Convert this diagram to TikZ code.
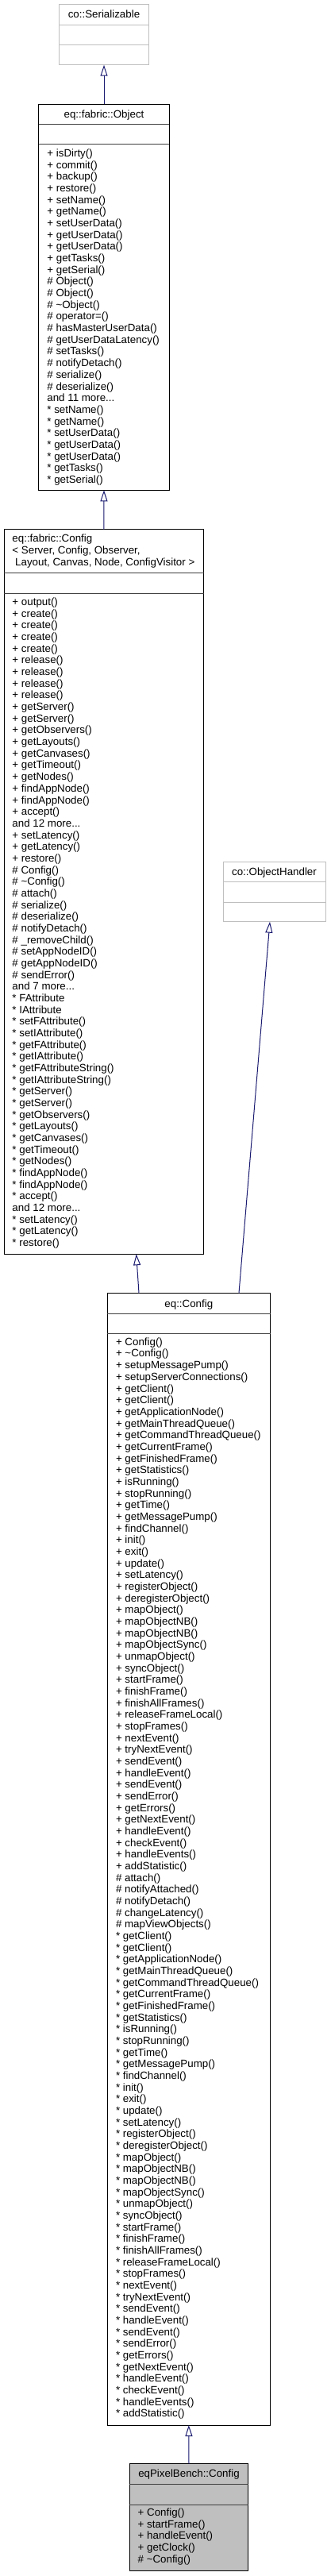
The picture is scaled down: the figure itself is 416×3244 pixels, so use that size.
\documentclass[tikz,border=0pt]{standalone}
\usepackage{fontspec}
\setmainfont{Liberation Sans}
\usetikzlibrary{arrows.meta}
\definecolor{edgeblue}{HTML}{191970}
\definecolor{greyA}{HTML}{BFBFBF}
\definecolor{divgrey}{HTML}{404040}
\newcommand\dfont{\fontsize{13.33}{14.67}\selectfont}
\newcommand\mdots{.{}.{}.}
\newcommand\memlist[4]{%
  \foreach \mtext [count=\mi from 0] in {#4} {\node[mem] (#1-\mi) at (#2, {#3+\mi*14.67+3.6}) {\mtext};}}
\begin{document}
\begin{tikzpicture}[x=1pt,y=-1pt,
  box/.style={draw=black, line width=1pt, inner sep=0pt, outer sep=0pt, anchor=north west},
  mem/.style={anchor=base west, inner sep=0pt, font=\dfont},
  ttl/.style={anchor=base, inner sep=0pt, font=\dfont},
  div/.style={draw=divgrey, line width=1pt},
  inh/.style={draw=edgeblue, line width=1pt, -{Triangle[open, length=14pt, width=9pt]}}]
\fill[white] (0,0) rectangle (416,3244);
\useasboundingbox (0,0) rectangle (416,3244);

% co::Serializable
\node[box, draw=greyA, minimum width=113.4pt, minimum height=76.7pt] (ser) at (74.3,5) {};
\draw[greyA, line width=1pt] (74.3,31.7) -- (187.7,31.7) (74.3,56.7) -- (187.7,56.7);
\node[ttl] (ser-t) at (131,22) {co::Serializable};

% eq::fabric::Object
\node[box, minimum width=164.6pt, minimum height=486.3pt] (obj) at (48.7,131) {};
\draw[div] (48.7,156) -- (213.3,156) (48.7,181.7) -- (213.3,181.7);
\node[ttl] (obj-t) at (131,148) {eq::fabric::Object};
\memlist{obj}{59.2}{194}{+ isDirty(), + commit(), + backup(), + restore(), + setName(), + getName(), + setUserData(), + getUserData(), + getUserData(), + getTasks(), + getSerial(), \# Object(), \# Object(), \# \textasciitilde Object(), \# operator=(), \# hasMasterUserData(), \# getUserDataLatency(), \# setTasks(), \# notifyDetach(), \# serialize(), \# deserialize(), {and 11 more\mdots}, * setName(), * getName(), * setUserData(), * getUserData(), * getUserData(), * getTasks(), * getSerial()}

% eq::fabric::Config
\node[box, minimum width=251.7pt, minimum height=912.6pt] (fab) at (5,666.7) {};
\draw[div] (5,721.7) -- (256.7,721.7) (5,747) -- (256.7,747);
\node[mem] (fab-t1) at (15.3,682) {eq::fabric::Config};
\node[mem] (fab-t2) at (15.3,697) {< Server, Config, Observer,};
\node[mem] (fab-t3) at (15.3,712) {\ Layout, Canvas, Node, ConfigVisitor >};
\memlist{fab}{15.3}{759}{+ output(), + create(), + create(), + create(), + create(), + release(), + release(), + release(), + release(), + getServer(), + getServer(), + getObservers(), + getLayouts(), + getCanvases(), + getTimeout(), + getNodes(), + findAppNode(), + findAppNode(), + accept(), {and 12 more\mdots}, + setLatency(), + getLatency(), + restore(), \# Config(), \# \textasciitilde Config(), \# attach(), \# serialize(), \# deserialize(), \# notifyDetach(), \# \_removeChild(), \# setAppNodeID(), \# getAppNodeID(), \# sendError(), {and 7 more\mdots}, * FAttribute, * IAttribute, * setFAttribute(), * setIAttribute(), * getFAttribute(), * getIAttribute(), * getFAttributeString(), * getIAttributeString(), * getServer(), * getServer(), * getObservers(), * getLayouts(), * getCanvases(), * getTimeout(), * getNodes(), * findAppNode(), * findAppNode(), * accept(), {and 12 more\mdots}, * setLatency(), * getLatency(), * restore()}

% co::ObjectHandler
\node[box, draw=greyA, minimum width=129pt, minimum height=75.7pt] (oh) at (281.7,1085) {};
\draw[greyA, line width=1pt] (281.7,1110.7) -- (410.7,1110.7) (281.7,1136) -- (410.7,1136);
\node[ttl] (oh-t) at (345.5,1102.3) {co::ObjectHandler};

% eq::Config
\node[box, minimum width=205.7pt, minimum height=1425.7pt] (eqc) at (135,1628.3) {};
\draw[div] (135,1654) -- (340.7,1654) (135,1679.3) -- (340.7,1679.3);
\node[ttl] (eqc-t) at (237.85,1646.3) {eq::Config};
\memlist{eqc}{145.8}{1690.7}{+ Config(), + \textasciitilde Config(), + setupMessagePump(), + setupServerConnections(), + getClient(), + getClient(), + getApplicationNode(), + getMainThreadQueue(), + getCommandThreadQueue(), + getCurrentFrame(), + getFinishedFrame(), + getStatistics(), + isRunning(), + stopRunning(), + getTime(), + getMessagePump(), + findChannel(), + init(), + exit(), + update(), + setLatency(), + registerObject(), + deregisterObject(), + mapObject(), + mapObjectNB(), + mapObjectNB(), + mapObjectSync(), + unmapObject(), + syncObject(), + startFrame(), + finishFrame(), + finishAllFrames(), + releaseFrameLocal(), + stopFrames(), + nextEvent(), + tryNextEvent(), + sendEvent(), + handleEvent(), + sendEvent(), + sendError(), + getErrors(), + getNextEvent(), + handleEvent(), + checkEvent(), + handleEvents(), + addStatistic(), \# attach(), \# notifyAttached(), \# notifyDetach(), \# changeLatency(), \# mapViewObjects(), * getClient(), * getClient(), * getApplicationNode(), * getMainThreadQueue(), * getCommandThreadQueue(), * getCurrentFrame(), * getFinishedFrame(), * getStatistics(), * isRunning(), * stopRunning(), * getTime(), * getMessagePump(), * findChannel(), * init(), * exit(), * update(), * setLatency(), * registerObject(), * deregisterObject(), * mapObject(), * mapObjectNB(), * mapObjectNB(), * mapObjectSync(), * unmapObject(), * syncObject(), * startFrame(), * finishFrame(), * finishAllFrames(), * releaseFrameLocal(), * stopFrames(), * nextEvent(), * tryNextEvent(), * sendEvent(), * handleEvent(), * sendEvent(), * sendError(), * getErrors(), * getNextEvent(), * handleEvent(), * checkEvent(), * handleEvents(), * addStatistic()}

% eqPixelBench::Config
\node[box, fill=greyA, minimum width=149.4pt, minimum height=134.6pt] (pb) at (163.3,3102.7) {};
\draw[div] (163.3,3128.3) -- (312.7,3128.3) (163.3,3154) -- (312.7,3154);
\node[ttl] (pb-t) at (238,3119.5) {eqPixelBench::Config};
\memlist{pb}{173.5}{3165}{+ Config(), + startFrame(), + handleEvent(), + getClock(), \# \textasciitilde Config()}

% inheritance connectors
\draw[inh] (obj.north) -- (ser.south);
\draw[inh] (fab.north) -- (obj.south);
\draw[inh] ([xshift=-62.85pt]eqc.north) -- ([xshift=40.85pt]fab.south);
\draw[inh] ([xshift=63.15pt]eqc.north) -- ([xshift=-6.2pt]oh.south);
\draw[inh] (pb.north) -- (eqc.south);
\end{tikzpicture}
\end{document}
